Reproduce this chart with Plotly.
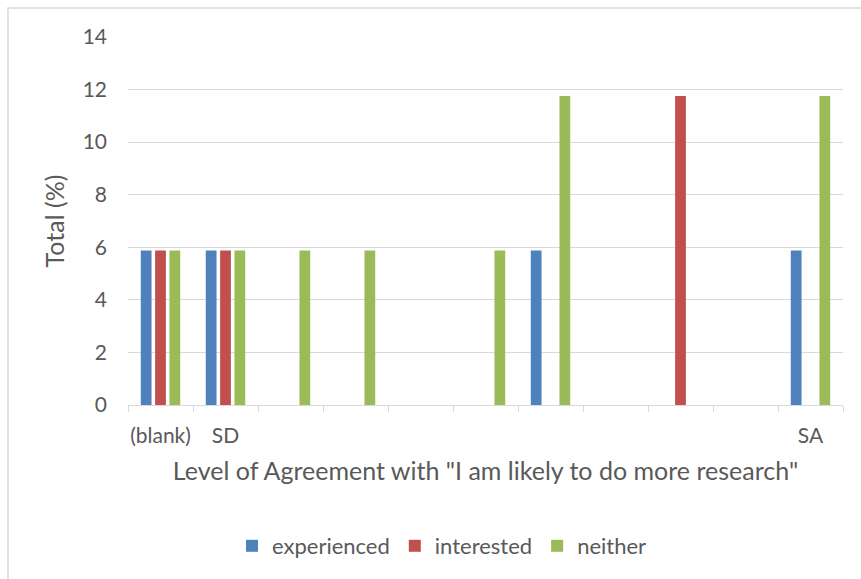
import plotly.graph_objects as go

# Response categories on the x axis (only some carry a printed label)
categories = ["(blank)", "SD", "", "", "", "", "", "", "", "", "SA"]

# Share of respondents (%) per group
experienced = [5.88, 5.88, 0, 0, 0, 0, 5.88, 0, 0, 0, 5.88]
interested = [5.88, 5.88, 0, 0, 0, 0, 0, 0, 11.76, 0, 0]
neither = [5.88, 5.88, 5.88, 5.88, 0, 5.88, 11.76, 0, 0, 0, 11.76]

series = [
    ("experienced", experienced, "#4F81BD"),
    ("interested", interested, "#C0504D"),
    ("neither", neither, "#9BBB59"),
]

positions = list(range(len(categories)))
text_color = "#595959"
grid_color = "#D9D9D9"
font_family = "Lato, Carlito, Calibri, sans-serif"

fig = go.Figure()
for name, values, color in series:
    fig.add_trace(go.Bar(
        x=positions,
        y=values,
        name=name,
        marker=dict(color=color, line=dict(width=0)),
        hoverinfo="skip",
    ))

W, H = 861, 579
ml, mr, mt, mb = 128, 18, 37, 174
pw, ph = W - ml - mr, H - mt - mb

def px_x(px):
    return (px - ml) / pw

def px_y(py):
    return (H - mb - py) / ph

fig.update_layout(
    width=W,
    height=H,
    margin=dict(l=ml, r=mr, t=mt, b=mb, pad=0),
    paper_bgcolor="white",
    plot_bgcolor="white",
    barmode="group",
    bargap=0.338,
    bargroupgap=0.25,
    font=dict(family=font_family, color=text_color, size=21),
    showlegend=True,
    legend=dict(
        orientation="h",
        x=px_x(442),
        xanchor="center",
        y=px_y(546),
        yanchor="middle",
        font=dict(size=22, color=text_color),
        bgcolor="rgba(0,0,0,0)",
    ),
    xaxis=dict(
        range=[-0.5, len(categories) - 0.5],
        tickmode="array",
        tickvals=positions,
        ticktext=categories,
        ticks="",
        ticklabelstandoff=12,
        showgrid=False,
        zeroline=False,
        showline=True,
        linecolor=grid_color,
        linewidth=1,
        tickfont=dict(size=21, color=text_color),
        minor=dict(
            tickmode="array",
            tickvals=[p - 0.5 for p in positions] + [positions[-1] + 0.5],
            ticks="outside",
            ticklen=6,
            tickcolor=grid_color,
            tickwidth=1,
            showgrid=False,
        ),
        title=dict(
            text='Level of Agreement with "I am likely to do more research"',
            font=dict(size=25, color=text_color),
            standoff=16,
        ),
        automargin=False,
        fixedrange=True,
    ),
    yaxis=dict(
        range=[0, 14],
        tickmode="linear",
        tick0=0,
        dtick=2,
        ticks="",
        ticklabelstandoff=20,
        showgrid=True,
        gridcolor=grid_color,
        gridwidth=1,
        zeroline=False,
        showline=False,
        tickfont=dict(size=21, color=text_color),
        title=dict(
            text="Total (%)",
            font=dict(size=25, color=text_color),
            standoff=10,
        ),
        automargin=False,
        fixedrange=True,
    ),
    shapes=[
        dict(
            type="rect",
            xref="paper",
            yref="paper",
            x0=px_x(8),
            x1=px_x(890),
            y0=px_y(600),
            y1=px_y(8),
            line=dict(color=grid_color, width=1.5),
            fillcolor="rgba(0,0,0,0)",
            layer="below",
        )
    ],
)

fig.write_html("out.html", config={"displayModeBar": False})
